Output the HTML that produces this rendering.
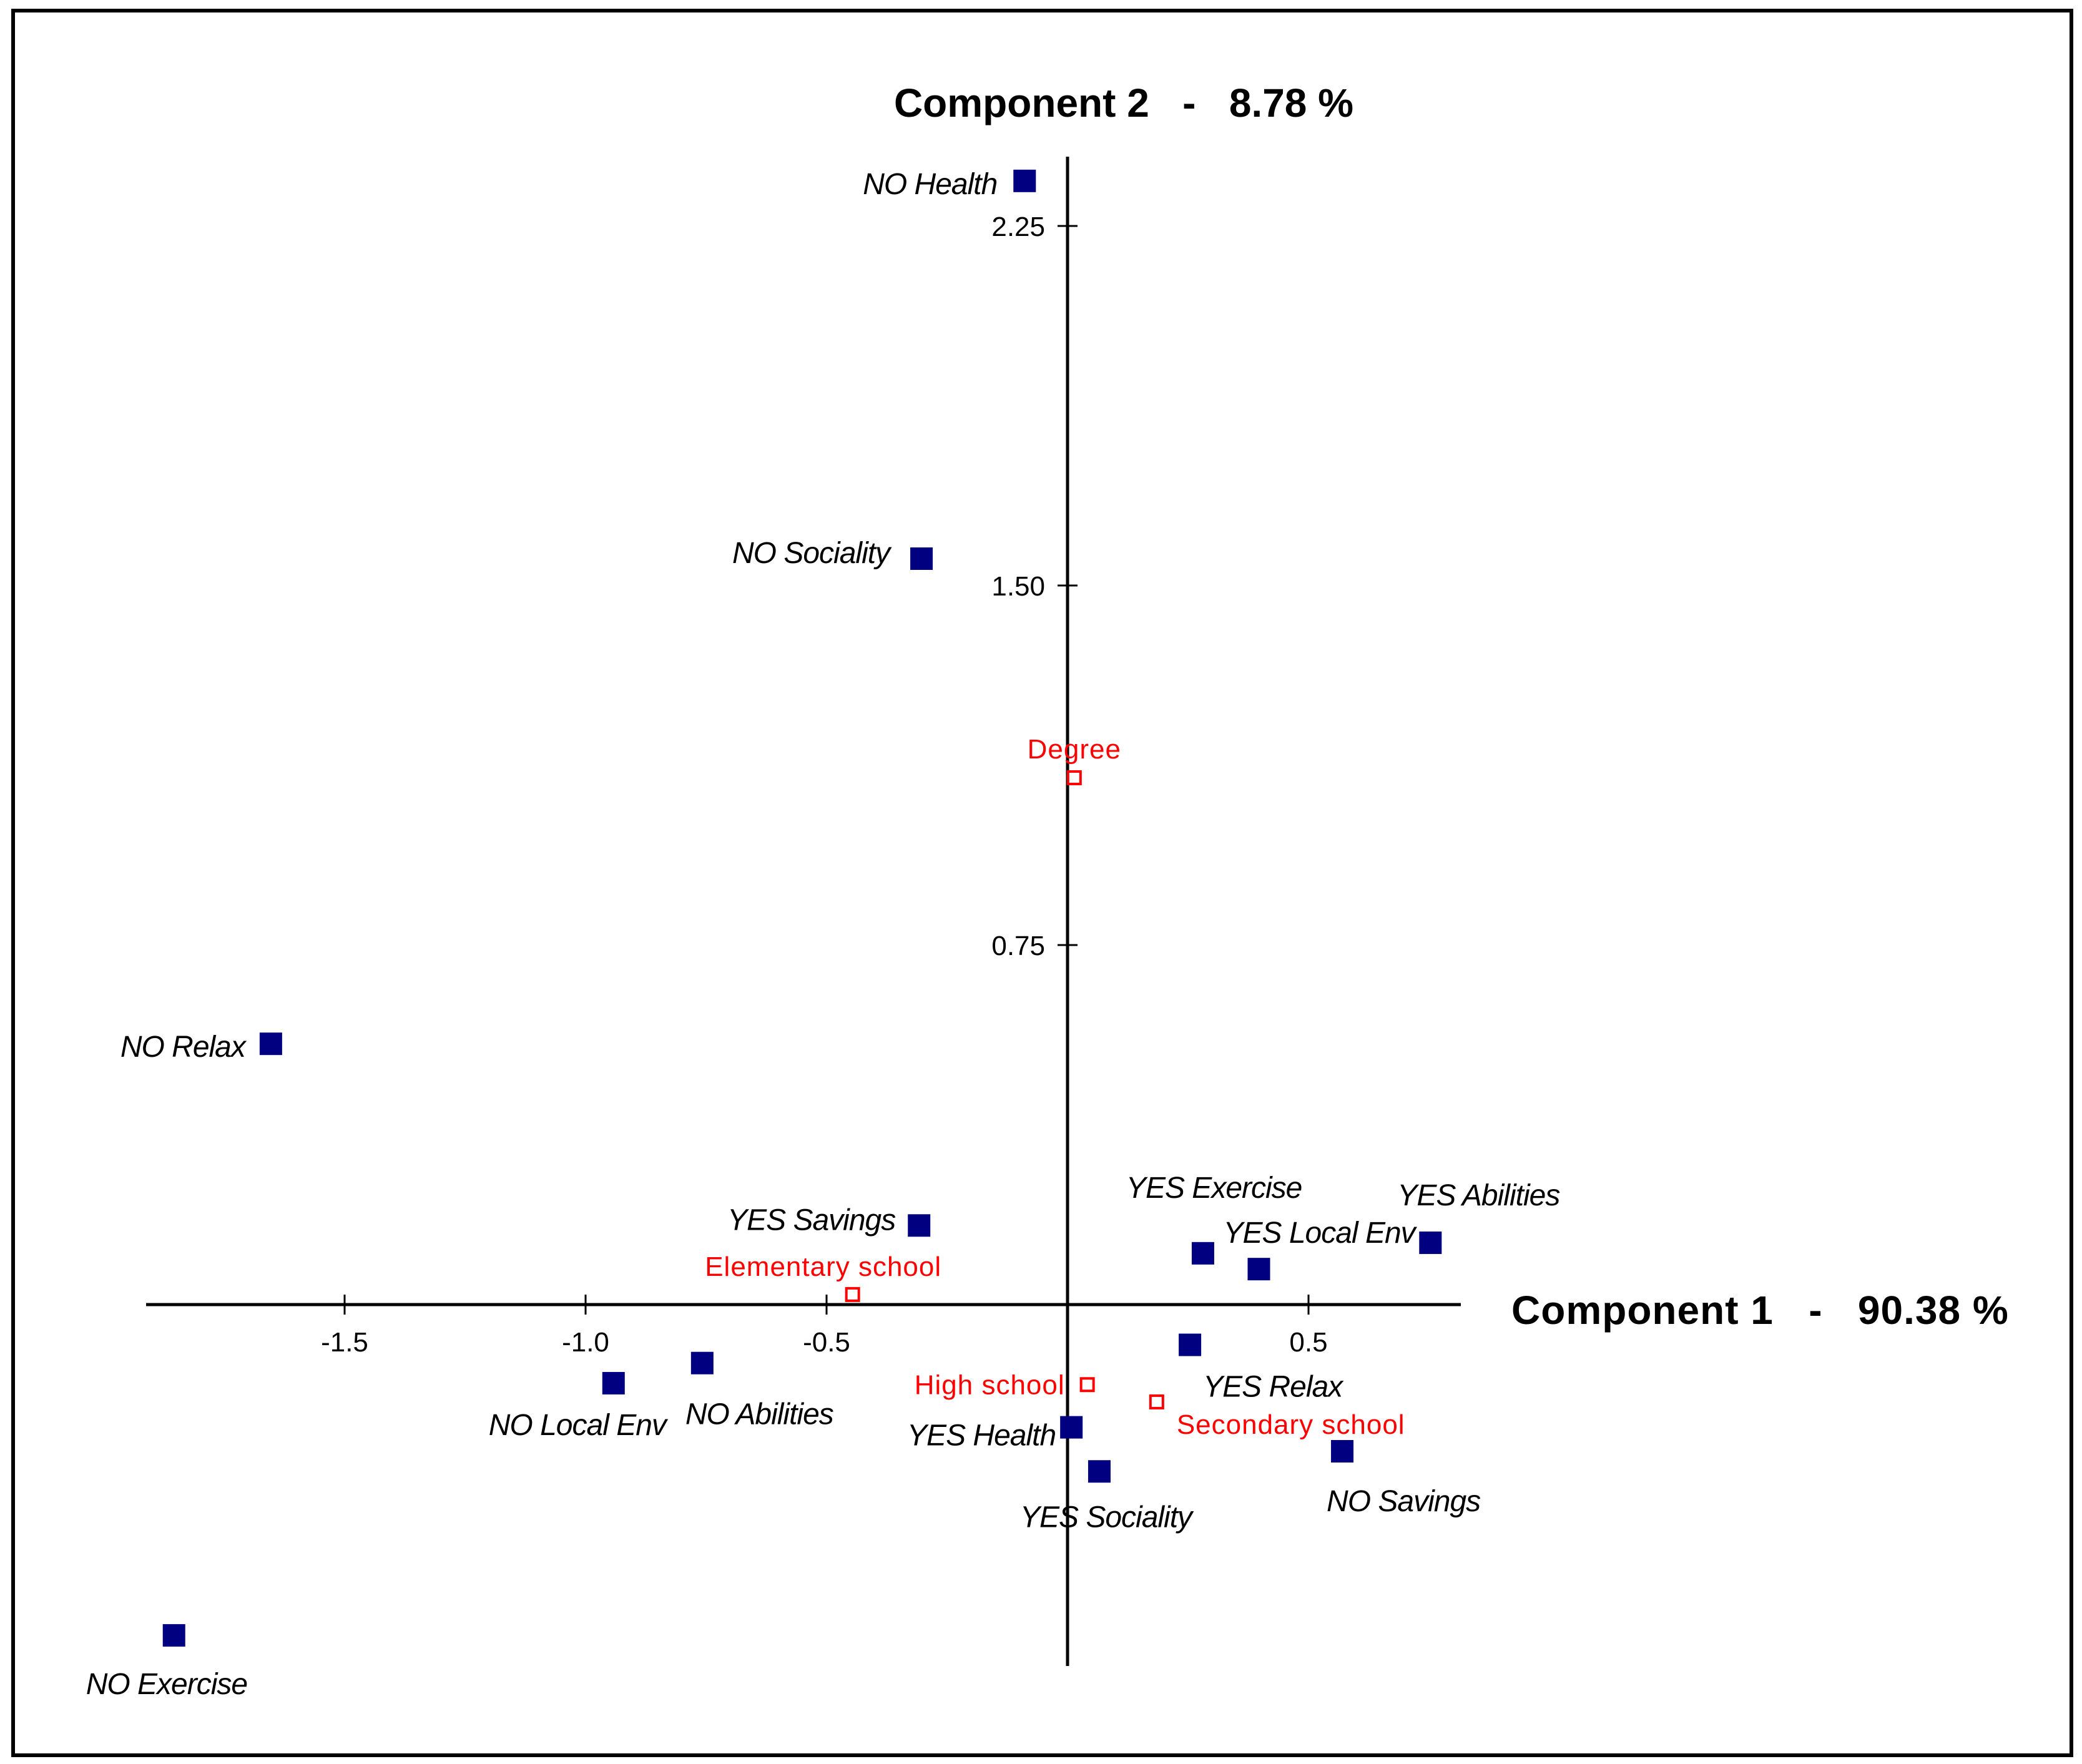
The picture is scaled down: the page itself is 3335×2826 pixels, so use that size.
<!DOCTYPE html>
<html><head><meta charset="utf-8"><style>
html,body{margin:0;padding:0;background:#fff;}
svg{display:block;font-family:"Liberation Sans",sans-serif;}
</style></head><body>
<svg id="chart" width="3335" height="2826" viewBox="0 0 3335 2826" xmlns="http://www.w3.org/2000/svg">
<rect x="21" y="17" width="3297" height="2795" fill="#fff" stroke="#000" stroke-width="6"/>
<g id="axes"></g>
<g id="marks"></g>
<text x="1800" y="187" text-anchor="middle" font-weight="bold" font-size="64" xml:space="preserve">Component 2   -   8.78 %</text>
<text x="2421" y="2121" font-weight="bold" font-size="64" letter-spacing="1" xml:space="preserve">Component 1   -   90.38 %</text>
</svg>
<script>
const categories = ["NO Health","NO Sociality","Degree","NO Relax","YES Savings","Elementary school","YES Exercise","YES Local Env","YES Abilities","YES Relax","High school","Secondary school","YES Health","YES Sociality","NO Savings","NO Local Env","NO Abilities","NO Exercise"];
const comp1 = [-0.089,-0.303,0.014,-1.653,-0.308,-0.446,0.281,0.397,0.753,0.254,0.041,0.185,0.008,0.066,0.570,-0.942,-0.758,-1.854];
const comp2 = [2.344,1.556,1.099,0.544,0.165,0.021,0.107,0.074,0.129,-0.084,-0.167,-0.203,-0.256,-0.348,-0.306,-0.164,-0.122,-0.690];
const supplementary = [0,0,1,0,0,1,0,0,0,0,1,1,0,0,0,0,0,0];
const xTicks = [-1.5,-1.0,-0.5,0.5];
const xTickLabels = ["-1.5","-1.0","-0.5","0.5"];
const yTicks = [0.75,1.50,2.25];
const yTickLabels = ["0.75","1.50","2.25"];

// label placement (style, pixel offsets)
const lblDx = [-44,-51,0,-41,-38,-47,-123,-57,-53,21,-36,32,-25,-127,-25,-200,-27,-141];
const lblDy = [21,7,-31,21,7,-30,-89,-42,-60,83,15,51,29,89,96,83,98,94];
const lblAnchor = ["end","end","middle","end","end","middle","start","start","start","start","end","start","end","start","start","start","start","start"];

const X0=1710, XU=772, Y0=2090, YU=768;
const sx = v => X0 + v*XU;
const sy = v => Y0 - v*YU;
const NS="http://www.w3.org/2000/svg";
function mk(tag, attrs){const e=document.createElementNS(NS,tag);for(const k in attrs)e.setAttribute(k,attrs[k]);return e;}
const axes=document.getElementById('axes'), marks=document.getElementById('marks');

let e=mk('line',{x1:234,y1:Y0,x2:2340,y2:Y0,stroke:'#000','stroke-width':5});


axes.appendChild(e);
e=mk('line',{x1:X0,y1:251,x2:X0,y2:2669,stroke:'#000','stroke-width':5});


axes.appendChild(e);

xTicks.forEach((t,i)=>{
  let l=mk('line',{x1:sx(t),y1:Y0-16,x2:sx(t),y2:Y0+16,stroke:'#000','stroke-width':3});
  
  
  axes.appendChild(l);
  let tx=mk('text',{x:sx(t),y:2165,'text-anchor':'middle','font-size':44});
  tx.textContent=xTickLabels[i];
  
  
  axes.appendChild(tx);
});
yTicks.forEach((t,i)=>{
  let l=mk('line',{x1:X0-16,y1:sy(t),x2:X0+16,y2:sy(t),stroke:'#000','stroke-width':3});
  
  
  axes.appendChild(l);
  let tx=mk('text',{x:1674,y:sy(t)+16,'text-anchor':'end','font-size':44});
  tx.textContent=yTickLabels[i];
  
  
  axes.appendChild(tx);
});

categories.forEach((c,i)=>{
  const px=sx(comp1[i]), py=sy(comp2[i]);
  const sup=supplementary[i]===1;
  let m;
  if(sup){
    m=mk('rect',{x:px-10,y:py-10,width:20,height:20,fill:'#fff',stroke:'#ff0000','stroke-width':4});
  } else {
    m=mk('rect',{x:px-18,y:py-18,width:36,height:36,fill:'#000080'});
  }
  
  
  marks.appendChild(m);
  let t=mk('text',{x:px+lblDx[i],y:py+lblDy[i],'text-anchor':lblAnchor[i],'font-size':sup?44:48,fill:sup?'#ff0000':'#000','font-style':sup?'normal':'italic','letter-spacing':sup?'1':'-1'});
  t.textContent=c;
  
  
  marks.appendChild(t);
});
</script>
</body></html>
